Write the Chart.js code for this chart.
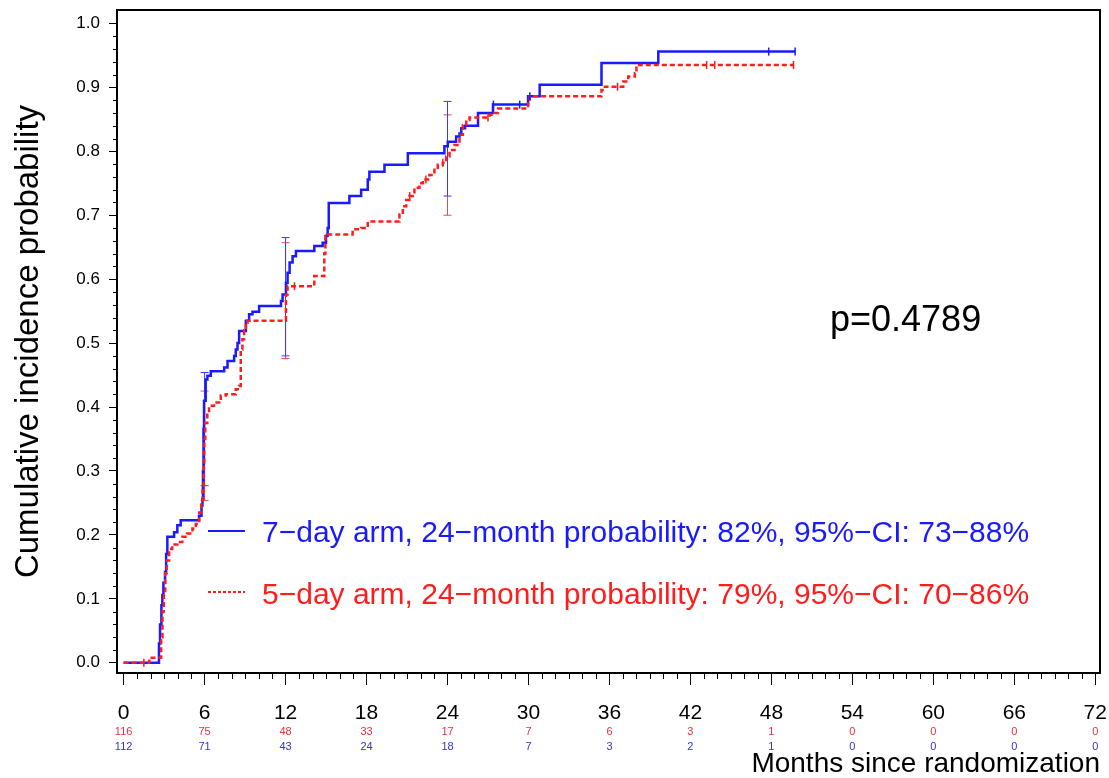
<!DOCTYPE html>
<html>
<head>
<meta charset="utf-8">
<title>Cumulative incidence probability</title>
<script src="https://cdn.jsdelivr.net/npm/chart.js@4.4.1/dist/chart.umd.min.js"></script>
<style>
  html, body { margin: 0; padding: 0; background: #ffffff; }
  #wrap { width: 1109px; height: 778px; position: relative; }
</style>
</head>
<body>
<div id="wrap"><canvas id="incidenceChart"></canvas></div>
<script>
// step points [month, cumulative incidence]
const arm7Steps = [
    [0, 0], [2.62, 0.03], [2.7, 0.06], [2.8, 0.09], [2.87, 0.106], [2.95, 0.125], [3.07, 0.142],
    [3.15, 0.17], [3.24, 0.197], [3.74, 0.204], [3.98, 0.215], [4.23, 0.223], [5.59, 0.23],
    [5.77, 0.246], [5.84, 0.256], [5.88, 0.3], [5.92, 0.366], [5.96, 0.41], [6.08, 0.443],
    [6.21, 0.449], [6.46, 0.456], [7.45, 0.462], [7.7, 0.472], [8.19, 0.48], [8.31, 0.49],
    [8.44, 0.5], [8.56, 0.519], [9.06, 0.535], [9.3, 0.545], [9.55, 0.549], [10.04, 0.558],
    [11.66, 0.566], [11.78, 0.576], [12.03, 0.594], [12.15, 0.61], [12.3, 0.626], [12.52, 0.636],
    [12.77, 0.644], [14.13, 0.652], [14.75, 0.657], [15.0, 0.668], [15.12, 0.68], [15.2, 0.719],
    [16.73, 0.73], [17.6, 0.74], [18.09, 0.756], [18.21, 0.768], [19.33, 0.779], [21.06, 0.797],
    [23.77, 0.808], [24.02, 0.815], [24.64, 0.823], [24.89, 0.828], [25.02, 0.836], [25.3, 0.84],
    [26.26, 0.86], [27.37, 0.873], [29.97, 0.886], [30.83, 0.904], [35.41, 0.938], [39.62, 0.956],
    [49.76, 0.956]
];
const arm5Steps = [
    [0, 0], [1.9, 0.008], [2.78, 0.04], [2.88, 0.08], [2.98, 0.11], [3.08, 0.14], [3.2, 0.16],
    [3.37, 0.178], [3.6, 0.185], [3.98, 0.189], [4.35, 0.197], [4.7, 0.202], [5.1, 0.21],
    [5.35, 0.217], [5.6, 0.235], [5.75, 0.25], [5.85, 0.27], [5.93, 0.31], [5.98, 0.35],
    [6.05, 0.375], [6.2, 0.39], [6.33, 0.402], [6.7, 0.407], [7.2, 0.418], [7.57, 0.42],
    [8.31, 0.428], [8.56, 0.433], [8.68, 0.49], [8.8, 0.506], [8.93, 0.52], [9.06, 0.532],
    [9.18, 0.535], [12.03, 0.576], [12.15, 0.589], [14.13, 0.605], [14.87, 0.64], [14.95, 0.667],
    [15.1, 0.67], [16.97, 0.678], [17.6, 0.68], [18.09, 0.69], [20.44, 0.701], [20.69, 0.714],
    [20.94, 0.724], [21.18, 0.73], [21.55, 0.743], [21.92, 0.75], [22.17, 0.756], [22.66, 0.763],
    [23.03, 0.771], [23.28, 0.779], [23.65, 0.782], [23.9, 0.792], [24.15, 0.802], [24.52, 0.81],
    [24.89, 0.826], [25.14, 0.841], [25.39, 0.849], [25.63, 0.853], [27.12, 0.857], [27.49, 0.86],
    [27.74, 0.867], [29.97, 0.878], [30.09, 0.886], [35.41, 0.896], [35.66, 0.901], [37.02, 0.909],
    [37.39, 0.917], [37.88, 0.922], [38.0, 0.935], [49.64, 0.935]
];

// censored observations
const arm7Censored = [[27.4, 0.873], [29.35, 0.873], [30.1, 0.886], [47.8, 0.956], [49.76, 0.956]];
const arm5Censored = [[1.5, 0], [12.66, 0.589], [21.2, 0.73], [22.4, 0.756], [23.65, 0.782],
    [27.0, 0.853], [36.6, 0.901], [43.2, 0.935], [43.8, 0.935], [49.64, 0.935]];

// 95% CI at 6, 12, 24 months
const ciMonths = [6, 12, 24];
const arm7CiLow = [0.277, 0.48, 0.73];
const arm7CiHigh = [0.454, 0.665, 0.878];
const arm5CiLow = [0.254, 0.476, 0.70];
const arm5CiHigh = [0.425, 0.657, 0.857];

const xTickLabels = [0, 6, 12, 18, 24, 30, 36, 42, 48, 54, 60, 66, 72];
const yTickLabels = [0, 0.1, 0.2, 0.3, 0.4, 0.5, 0.6, 0.7, 0.8, 0.9, 1.0];
const atRisk5 = [116, 75, 48, 33, 17, 7, 6, 3, 1, 0, 0, 0, 0];
const atRisk7 = [112, 71, 43, 24, 18, 7, 3, 2, 1, 0, 0, 0, 0];

const legendLabels = [
    '7\u2212day arm, 24\u2212month probability: 82%, 95%\u2212CI: 73\u221288%',
    '5\u2212day arm, 24\u2212month probability: 79%, 95%\u2212CI: 70\u221286%'
];
const pValueText = 'p=0.4789';

const BLUE = '#1a1aff';
const RED = '#ff1c1c';
const FONT = "'Liberation Sans', Arial, Helvetica, sans-serif";

Chart.defaults.font.family = FONT;
Chart.defaults.color = '#000000';

const toPoints = arr => arr.map(p => ({ x: p[0], y: p[1] }));

const ciSets = [];
ciMonths.forEach((m, i) => {
    ciSets.push({
        data: [{ x: m, y: arm7CiLow[i] }, { x: m, y: arm7CiHigh[i] }],
        borderColor: '#3a3aff', borderWidth: 1,
        pointStyle: 'line', pointRadius: 4, pointBorderWidth: 1, pointBorderColor: '#3a3aff',
        order: 3
    });
    ciSets.push({
        data: [{ x: m, y: arm5CiLow[i] }, { x: m, y: arm5CiHigh[i] }],
        borderColor: '#f04848', borderWidth: 1,
        pointStyle: 'line', pointRadius: 4, pointBorderWidth: 1, pointBorderColor: '#f04848',
        order: 3
    });
});

// frame, minor ticks, at-risk table, legend, p value
const extras = {
    id: 'extras',
    afterDraw(chart) {
        const { ctx, chartArea: a, scales: { x, y } } = chart;
        ctx.save();
        ctx.strokeStyle = '#000';
        ctx.lineWidth = 2;
        ctx.strokeRect(a.left, a.top, a.right - a.left, a.bottom - a.top);

        ctx.lineWidth = 1;
        ctx.beginPath();
        for (let m = 0; m <= 72; m++) {
            if (m % 6 === 0) continue;
            const px = Math.round(x.getPixelForValue(m)) + 0.5;
            ctx.moveTo(px, a.bottom);
            ctx.lineTo(px, a.bottom + 6);
        }
        for (let k = 0; k <= 50; k++) {
            if (k % 5 === 0) continue;
            const py = Math.round(y.getPixelForValue(k / 50)) + 0.5;
            ctx.moveTo(a.left - 4, py);
            ctx.lineTo(a.left, py);
        }
        ctx.stroke();

        ctx.textAlign = 'center';
        ctx.textBaseline = 'middle';
        ctx.font = '11px ' + FONT;
        xTickLabels.forEach((m, i) => {
            const px = x.getPixelForValue(m);
            ctx.fillStyle = '#e8323c';
            ctx.fillText(String(atRisk5[i]), px, 732);
            ctx.fillStyle = '#3434d0';
            ctx.fillText(String(atRisk7[i]), px, 747);
        });

        // legend
        ctx.lineWidth = 2;
        ctx.strokeStyle = BLUE;
        ctx.beginPath(); ctx.moveTo(208, 531); ctx.lineTo(245, 531); ctx.stroke();
        ctx.strokeStyle = RED;
        ctx.setLineDash([3, 2]);
        ctx.beginPath(); ctx.moveTo(208, 592); ctx.lineTo(245, 592); ctx.stroke();
        ctx.setLineDash([]);
        ctx.textAlign = 'left';
        ctx.font = '30px ' + FONT;
        ctx.fillStyle = BLUE;
        ctx.fillText(legendLabels[0], 262, 534);
        ctx.fillStyle = RED;
        ctx.fillText(legendLabels[1], 262, 596);

        ctx.fillStyle = '#000';
        ctx.font = '36px ' + FONT;
        ctx.fillText(pValueText, 830, 321);
        ctx.restore();
    }
};

new Chart(document.getElementById('incidenceChart'), {
    type: 'line',
    data: {
        datasets: [
            {
                label: '5-day arm',
                data: toPoints(arm5Steps),
                stepped: 'before',
                borderColor: RED, borderWidth: 2.5, borderDash: [5, 3],
                pointRadius: 0, order: 1
            },
            {
                label: '7-day arm',
                data: toPoints(arm7Steps),
                stepped: 'before',
                borderColor: BLUE, borderWidth: 2.5,
                pointRadius: 0, order: 2
            },
            {
                label: '5-day censored',
                data: toPoints(arm5Censored),
                showLine: false,
                pointStyle: 'line', rotation: 90, pointRadius: 4,
                pointBorderColor: RED, pointBorderWidth: 1.5, order: 0
            },
            {
                label: '7-day censored',
                data: toPoints(arm7Censored),
                showLine: false,
                pointStyle: 'line', rotation: 90, pointRadius: 4,
                pointBorderColor: BLUE, pointBorderWidth: 1.5, order: 0
            },
            ...ciSets
        ]
    },
    options: {
        responsive: true,
        maintainAspectRatio: false,
        animation: false,
        layout: { padding: { top: 10, right: 9, left: 0, bottom: 0 } },
        plugins: {
            legend: { display: false },
            tooltip: { enabled: false }
        },
        scales: {
            x: {
                type: 'linear',
                min: -0.49,
                max: 72.35,
                afterBuildTicks: scale => { scale.ticks = xTickLabels.map(v => ({ value: v })); },
                afterFit: scale => {
                    scale.height = 105;
                    scale.paddingLeft = 0;
                    scale.paddingRight = 0;
                },
                border: { display: false },
                grid: { drawOnChartArea: false, tickLength: 12, tickColor: '#000', tickWidth: 1 },
                ticks: {
                    font: { size: 21 }, color: '#000', padding: 16,
                    maxRotation: 0, autoSkip: false,
                    callback: v => String(v)
                },
                title: {
                    display: true, text: 'Months since randomization', align: 'end',
                    font: { size: 28, lineHeight: 1 }, color: '#000', padding: { top: 0, bottom: 0 }
                }
            },
            y: {
                type: 'linear',
                min: -0.016,
                max: 1.021,
                afterBuildTicks: scale => { scale.ticks = yTickLabels.map(v => ({ value: v })); },
                afterFit: scale => {
                    scale.width = 117;
                    scale.paddingTop = 0;
                    scale.paddingBottom = 0;
                },
                border: { display: false },
                grid: { drawOnChartArea: false, tickLength: 8, tickColor: '#000', tickWidth: 1 },
                ticks: {
                    font: { size: 17 }, color: '#000', padding: 9,
                    callback: v => v.toFixed(1)
                },
                title: {
                    display: true, text: 'Cumulative incidence probability',
                    font: { size: 33 }, color: '#000', padding: { top: 9, bottom: 0 }
                }
            }
        }
    },
    plugins: [extras]
});
</script>
</body>
</html>
